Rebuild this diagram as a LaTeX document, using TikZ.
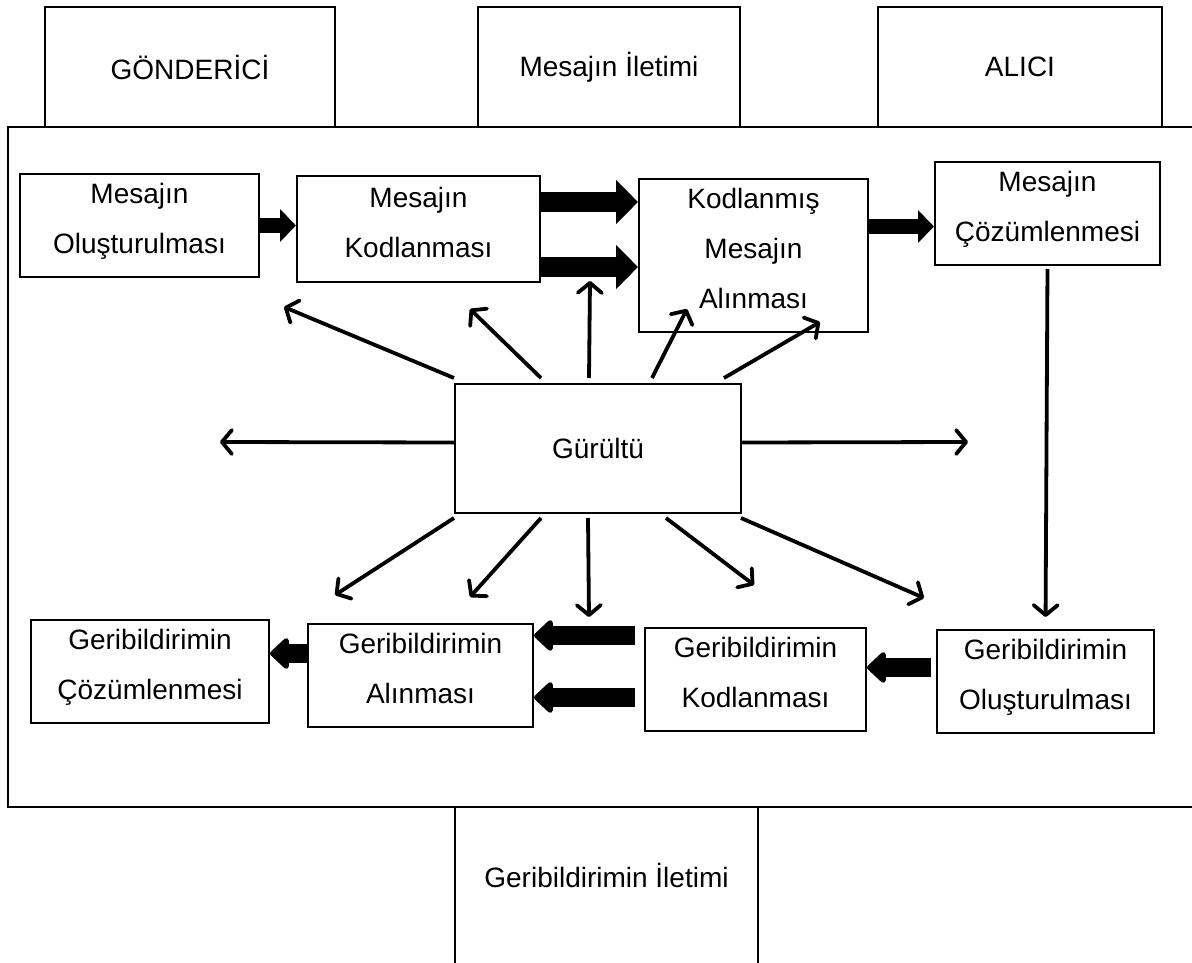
\documentclass[tikz,border=0pt]{standalone}
\usepackage{fontspec}
\setmainfont{Liberation Sans}
\usetikzlibrary{arrows.meta}

\begin{document}
\begin{tikzpicture}[x=1pt,y=-1pt,
  box/.style={draw,line width=2pt,align=center,inner sep=0pt,font=\fontsize{28}{50}\selectfont},
  stage/.style={box,text depth=14pt},
  noise/.style={line width=3.8pt,-{Straight Barb[round,length=10pt,width=24pt]}},
  fat/.style={line width=15pt,-{Triangle[length=16pt,width=32pt]}},
  fatter/.style={line width=20pt,-{Triangle[length=22pt,width=43pt]}},
  back/.style={line width=19pt,-{Triangle[round,length=20pt,width=36pt]}}]
  \useasboundingbox (0,0) rectangle (1192,963);

  % top row of boxes and the frame
  \node[box, minimum width=290pt, minimum height=120pt] (snd) at (190,67) {GÖNDERİCİ};
  \node[box, minimum width=262pt, minimum height=120pt] (ilt) at (609,67) {Mesajın İletimi};
  \node[box, minimum width=284pt, minimum height=120pt] (rcv) at (1020,67) {ALICI};
  \draw[line width=2.5pt] (1192,127) -- (8,127) -- (8,807) -- (1192,807);
  \node[font=\fontsize{28}{50}\selectfont, inner sep=0pt, text depth=20pt,
        minimum width=303pt, minimum height=156pt] (gil) at (606.5,885) {Geribildirimin İletimi};
  \draw[line width=2pt] (gil.north west) -- (gil.south west) (gil.north east) -- (gil.south east);

  % message side
  \node[stage, minimum width=239pt, minimum height=103pt] (mo) at (139.5,225.5) {Mesajın\\Oluşturulması};
  \node[stage, minimum width=243pt, minimum height=106pt] (mk) at (418.5,229) {Mesajın\\Kodlanması};
  \node[stage, minimum width=229pt, minimum height=153pt] (km) at (753.5,255.5) {Kodlanmış\\Mesajın\\Alınması};
  \node[stage, minimum width=225pt, minimum height=103pt] (mc) at (1047.5,213.5) {Mesajın\\Çözümlenmesi};

  % noise
  \node[box, minimum width=286pt, minimum height=129pt] (gn) at (598,448.5) {Gürültü};

  % feedback side
  \node[stage, minimum width=238pt, minimum height=103pt] (gc) at (150,671.5) {Geribildirimin\\Çözümlenmesi};
  \node[stage, minimum width=225pt, minimum height=103pt] (gl) at (420.5,675.5) {Geribildirimin\\Alınması};
  \node[stage, minimum width=221pt, minimum height=103pt] (gk) at (755.5,679.5) {Geribildirimin\\Kodlanması};
  \node[stage, minimum width=217pt, minimum height=103pt] (go) at (1045.5,681.5) {Geribildirimin\\Oluşturulması};

  % thick arrows
  \draw[fat] (mo.east) -- (mo.east -| mk.west);
  \coordinate (k1) at ([yshift=27pt]mk.east);
  \coordinate (k2) at ([yshift=-38pt]mk.east);
  \draw[fatter] (k1) -- (k1 -| km.west);
  \draw[fatter] (k2) -- (k2 -| km.west);
  \coordinate (k3) at ([yshift=-13pt]mc.west);
  \draw[fat] (k3 -| km.east) -- (k3);

  \coordinate (b1) at ([yshift=22pt]gl.west);
  \draw[back] (b1) -- (b1 -| gc.east);
  \coordinate (b2) at ([xshift=-9pt,yshift=44pt]gk.west);
  \coordinate (b3) at ([xshift=-9pt,yshift=-18pt]gk.west);
  \draw[back] (b2) -- (b2 -| gl.east);
  \draw[back] (b3) -- (b3 -| gl.east);
  \coordinate (b4) at ([xshift=-5pt,yshift=14pt]go.west);
  \draw[back] (b4) -- (b4 -| gk.east);

  \draw[noise, shorten <=3pt, shorten >=12pt] (mc.south) -- (go.north);

  % noise arrows
  \foreach \i/\x/\y in {1/284/307,2/470/309,3/590/281,4/687/309,5/820/322,
                        6/220/442,7/968/442,
                        8/335/595,9/470/597,10/589/617,11/754/585,12/924/598}
    \coordinate (n\i) at (\x,\y);
  \foreach \i/\s in {1/0,2/87,3/135,4/198,5/270}
    \draw[noise] ([xshift=\s pt,yshift=5pt]gn.north west) -- (n\i);
  \foreach \i/\s in {8/0,9/87,10/134,11/212,12/287}
    \draw[noise] ([xshift=\s pt,yshift=-4pt]gn.south west) -- (n\i);
  \draw[noise] ([yshift=6pt]gn.west) -- (n6);
  \draw[noise] ([yshift=6pt]gn.east) -- (n7);
\end{tikzpicture}
\end{document}
